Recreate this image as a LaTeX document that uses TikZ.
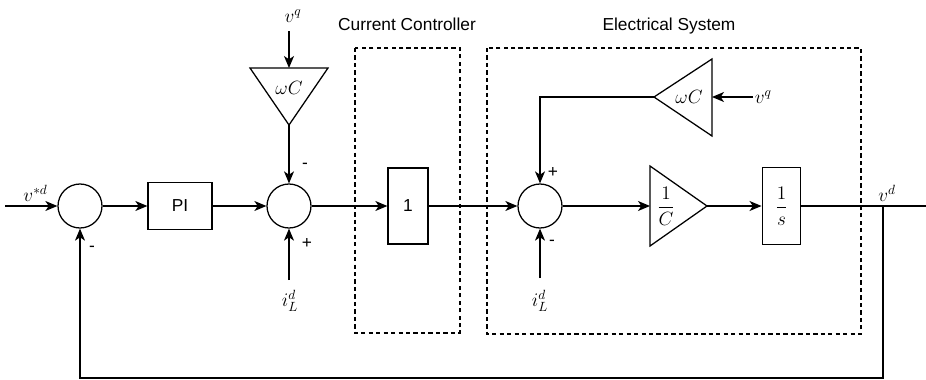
\documentclass[tikz,border=0pt]{standalone}
\usepackage{amsmath}
\usepackage[no-math]{fontspec}
\setmainfont{Liberation Sans}
\usetikzlibrary{arrows.meta,positioning,calc}

\begin{document}
\begin{tikzpicture}[
    x=0.75pt, y=-0.75pt,
    every node/.style={font=\fontsize{13}{15}\selectfont},
    mathfont/.style={font=\fontsize{14.4}{17}\selectfont},
    sumnode/.style={circle, draw, line width=0.95pt, minimum size=33pt, inner sep=0pt},
    blockbox/.style={rectangle, draw, line width=0.95pt, inner sep=0pt},
    gainbox/.style={draw, line width=0.95pt, line join=miter},
    groupbox/.style={draw, line width=0.8pt, dash pattern=on 3.2pt off 2.4pt},
    signal/.style={-{Stealth[length=9pt, width=7.5pt, inset=2.5pt]}, line width=0.95pt},
    wire/.style={line width=0.95pt},
    siglabel/.style={mathfont, inner sep=0.5pt},
    signlabel/.style={inner sep=0pt}
  ]
    \useasboundingbox (0,0) rectangle (926,379);

    % Group frames
    \draw[groupbox] (355,48) rectangle (460,333);
    \draw[groupbox] (487,48) rectangle (861,334);
    \node[anchor=base] (cctitle) at (407,30) {Current Controller};
    \node[anchor=base] (estitle) at (669,30) {Electrical System};

    % Blocks
    \node[sumnode] (s1) at (80,206) {};
    \node[blockbox, minimum width=48pt, minimum height=35pt] (pi) at (180,206) {PI};
    \node[sumnode] (s2) at (289,206) {};
    \node[blockbox, minimum width=30pt, minimum height=57pt] (cc) at (408,206) {1};
    \node[sumnode] (s3) at (540,206) {};
    \node[blockbox, mathfont, minimum width=29pt, minimum height=58pt] (integ) at (781.5,206) {$\dfrac{1}{s}$};

    % Gains
    \draw[gainbox] (250,68) -- (328,68) -- (289,125) -- cycle;
    \coordinate (wc1in) at (289,68);
    \coordinate (wc1out) at (289,125);
    \node[mathfont] (wc1) at (289,88) {$\omega C$};

    \draw[gainbox] (712,59) -- (712,136) -- (654,97) -- cycle;
    \coordinate (wc2in) at (712,97);
    \coordinate (wc2out) at (654,97);
    \node[mathfont] (wc2) at (689,97) {$\omega C$};

    \draw[gainbox] (650,166) -- (650,246) -- (707,206) -- cycle;
    \coordinate (gcin) at (650,206);
    \coordinate (gcout) at (707,206);
    \node[mathfont] (gc) at (666,206) {$\dfrac{1}{C}$};

    % Signal ends
    \coordinate (in) at (5,206);
    \coordinate (vq1) at (289,31);
    \coordinate (il1) at (289,280);
    \coordinate (vq2) at (753,97);
    \coordinate (il2) at (540,278);
    \coordinate (tap) at (883,206);
    \coordinate (out) at (926,206);
    \coordinate (bot) at (0,378);

    % Signal labels
    \node[siglabel, anchor=base] (vref) at (35.5,201) {$v^{*d}$};
    \node[siglabel, anchor=base] (vqa) at (293,22) {$v^q$};
    \node[siglabel, anchor=base] (ila) at (290,306) {$i_L^d$};
    \node[siglabel, anchor=base west] (vqb) at (754,103) {$v^q$};
    \node[siglabel, anchor=base] (ilb) at (540,306) {$i_L^d$};
    \node[siglabel, anchor=base] (vout) at (887,201) {$v^d$};

    % Signs
    \node[signlabel] at (92,249) {-};
    \node[signlabel] at (305,166) {-};
    \node[signlabel] at (307,243) {+};
    \node[signlabel] at (553,172) {+};
    \node[signlabel] at (552,243) {-};

    % Forward path
    \draw[signal] (in) -- (s1);
    \draw[signal] (s1) -- (pi);
    \draw[signal] (pi) -- (s2);
    \draw[signal] (s2) -- (cc);
    \draw[signal] (cc) -- (s3);
    \draw[signal] (s3) -- (gcin);
    \draw[signal] (gcout) -- (integ);
    \draw[wire] (integ) -- (out);

    % Decoupling and disturbance inputs
    \draw[signal] (vq1) -- (wc1in);
    \draw[signal] (wc1out) -- (s2);
    \draw[signal] (il1) -- (s2);
    \draw[signal] (vq2) -- (wc2in);
    \draw[signal] (wc2out) -| (s3);
    \draw[signal] (il2) -- (s3);

    % Feedback
    \draw[signal] (tap) -- (tap |- bot) -| (s1);
  \end{tikzpicture}
\end{document}
